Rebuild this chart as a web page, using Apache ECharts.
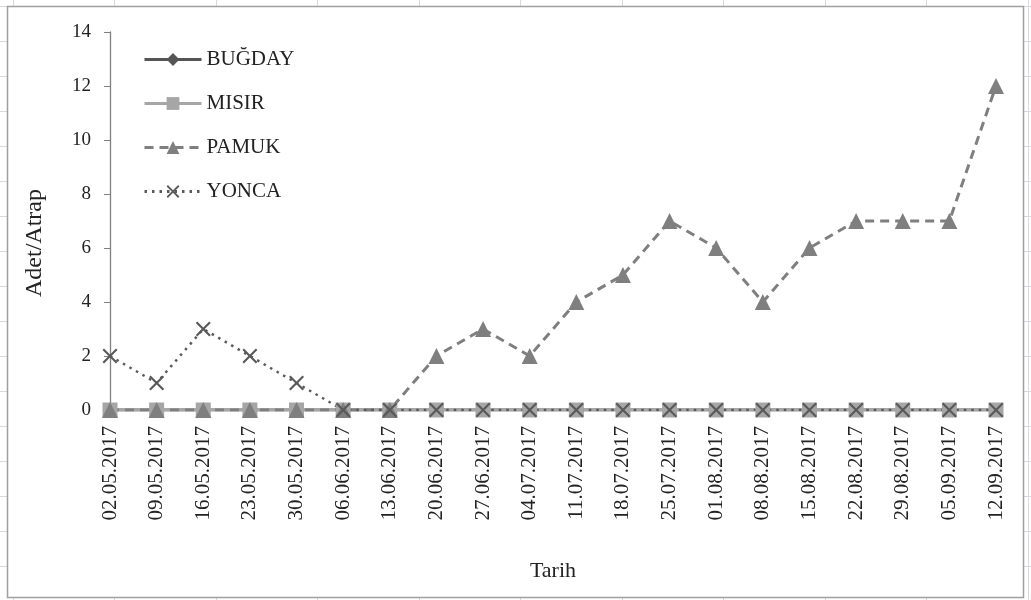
<!DOCTYPE html>
<html>
<head>
<meta charset="utf-8">
<script src="https://cdn.jsdelivr.net/npm/echarts@6/dist/echarts.min.js"></script>
<style>
  html, body { margin: 0; padding: 0; background: #fff; }
  #chart { width: 1031px; height: 600px; }
</style>
</head>
<body>
<div id="chart"></div>
<script>
// Sampling dates (weekly counts)
const dates = ['02.05.2017','09.05.2017','16.05.2017','23.05.2017','30.05.2017','06.06.2017','13.06.2017',
  '20.06.2017','27.06.2017','04.07.2017','11.07.2017','18.07.2017','25.07.2017','01.08.2017','08.08.2017',
  '15.08.2017','22.08.2017','29.08.2017','05.09.2017','12.09.2017'];
const bugday = [0,0,0,0,0,0,0,0,0,0,0,0,0,0,0,0,0,0,0,0];
const misir  = [0,0,0,0,0,0,0,0,0,0,0,0,0,0,0,0,0,0,0,0];
const pamuk  = [0,0,0,0,0,0,0,2,3,2,4,5,7,6,4,6,7,7,7,12];
const yonca  = [2,1,3,2,1,0,0,0,0,0,0,0,0,0,0,0,0,0,0,0];
const yTicks = [0,2,4,6,8,10,12,14];

const serif = 'Liberation Serif, Times New Roman, serif';
const crossPath = 'path://M0,1 L1,0 L5,4 L9,0 L10,1 L6,5 L10,9 L9,10 L5,6 L1,10 L0,9 L4,5 Z';

// worksheet cell lines peeking out around the chart frame
const sheet = [];
for (let y = 6; y <= 600; y += 35) {
  sheet.push({ type: 'line', silent: true, shape: { x1: 0, y1: y + 0.5, x2: 1031, y2: y + 0.5 },
    style: { stroke: '#d4d9e2', lineWidth: 1 } });
}
for (let x = 12.5; x <= 1031; x += 101.5) {
  sheet.push({ type: 'line', silent: true, shape: { x1: Math.round(x) + 0.5, y1: 0, x2: Math.round(x) + 0.5, y2: 600 },
    style: { stroke: '#d4d9e2', lineWidth: 1 } });
}
sheet.push({
  type: 'rect', silent: true,
  shape: { x: 7.5, y: 6.5, width: 1016, height: 591 },
  style: { fill: '#fff', stroke: '#a0a0a0', lineWidth: 1.5 }
});

const chart = echarts.init(document.getElementById('chart'));
chart.setOption({
  animation: false,
  backgroundColor: '#fff',
  graphic: sheet,
  grid: { left: 110, right: 35, top: 32, bottom: 190, containLabel: false },
  legend: {
    orient: 'vertical',
    left: 138,
    top: 44,
    itemWidth: 57,
    itemHeight: 16,
    itemGap: 23,
    lineStyle: { width: 3 },
    textStyle: { fontFamily: serif, fontSize: 21, color: '#222' },
    data: ['BUĞDAY', 'MISIR', 'PAMUK', 'YONCA']
  },
  xAxis: {
    type: 'category',
    data: dates,
    boundaryGap: false,
    name: 'Tarih',
    nameLocation: 'middle',
    nameGap: 150,
    nameTextStyle: { fontFamily: serif, fontSize: 22, color: '#222' },
    axisLine: { show: true, lineStyle: { color: '#808080' } },
    axisTick: { show: false },
    axisLabel: { rotate: 90, margin: 16, fontFamily: serif, fontSize: 21, color: '#222' }
  },
  yAxis: {
    type: 'value',
    min: 0, max: 14, interval: 2,
    name: 'Adet/Atrap',
    nameLocation: 'middle',
    nameGap: 63,
    nameTextStyle: { fontFamily: serif, fontSize: 24, color: '#222', padding: [0, 44, 0, 0] },
    axisLine: { show: true, lineStyle: { color: '#808080', width: 1.3 } },
    axisTick: { show: true, inside: false, length: 6, lineStyle: { color: '#808080' } },
    splitLine: { show: false },
    axisLabel: {
      margin: 19, fontFamily: serif, fontSize: 19, color: '#222',
      formatter: v => yTicks.includes(v) ? String(v) : ''
    }
  },
  series: [
    {
      name: 'BUĞDAY', type: 'line', data: bugday,
      symbol: 'diamond', symbolSize: 13,
      lineStyle: { color: '#555', width: 3 },
      itemStyle: { color: '#555' }
    },
    {
      name: 'MISIR', type: 'line', data: misir,
      symbol: 'rect', symbolSize: 15,
      lineStyle: { color: '#a6a6a6', width: 3 },
      itemStyle: { color: '#a6a6a6' }
    },
    {
      name: 'PAMUK', type: 'line', data: pamuk,
      symbol: 'triangle', symbolSize: 16,
      lineStyle: { color: '#7f7f7f', width: 3, type: [9, 6] },
      itemStyle: { color: '#7f7f7f' }
    },
    {
      name: 'YONCA', type: 'line', data: yonca,
      symbol: crossPath, symbolSize: 15,
      lineStyle: { color: '#595959', width: 2.5, type: [2.5, 5] },
      itemStyle: { color: '#595959' }
    }
  ]
});
</script>
</body>
</html>
